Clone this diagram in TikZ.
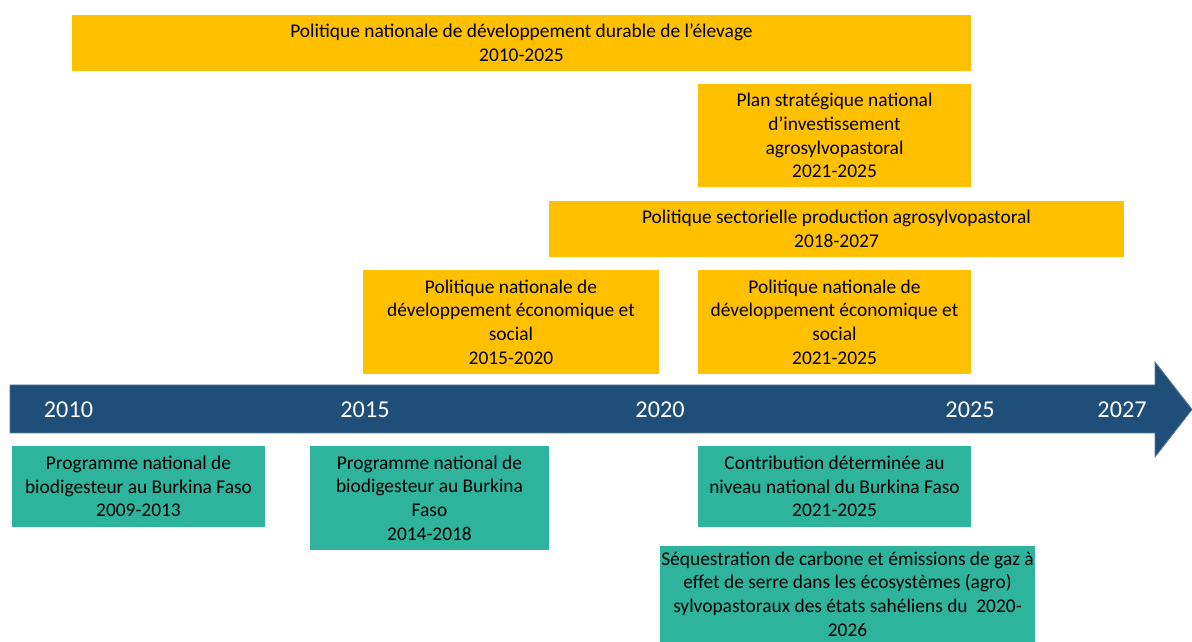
\documentclass[tikz,border=0pt]{standalone}
\usepackage{fontspec}
\setmainfont{Carlito}
\usetikzlibrary{positioning}
\definecolor{planorange}{HTML}{FFC000}
\definecolor{projgreen}{HTML}{2EB39D}
\definecolor{axisblue}{HTML}{1F4E79}

\tikzset{
  policy/.style={fill=planorange, align=center, inner sep=0pt, font=\fontsize{13.8}{16.9}\selectfont},
  project/.style={fill=projgreen, align=center, inner sep=0pt, font=\fontsize{13.8}{16.9}\selectfont},
  year/.style={text=white, font=\fontsize{17.2}{20}\selectfont}
}

\begin{document}
\begin{tikzpicture}[x=0.025cm, y=-0.025cm]
    \useasboundingbox (0,0) rectangle (1192,642);

    % Policies above the axis
    \node[policy, minimum width=22.475cm, minimum height=1.4cm] (pndel) at (521.5,43)
        {Politique nationale de développement durable de l’élevage\\2010-2025};
    \node[policy, minimum width=6.825cm, minimum height=2.575cm] (psnia) at (834.5,135.5)
        {Plan stratégique national\\d’investissement\\agrosylvopastoral\\2021-2025};
    \node[policy, minimum width=14.375cm, minimum height=1.4cm] (pspasp) at (836.5,229)
        {Politique sectorielle production agrosylvopastoral\\2018-2027};
    \node[policy, minimum width=7.4cm, minimum height=2.6cm] (pndes1) at (511,322)
        {Politique nationale de\\développement économique et\\social\\2015-2020};
    \node[policy, minimum width=6.825cm, minimum height=2.6cm] (pndes2) at (834.5,322)
        {Politique nationale de\\développement économique et\\social\\2021-2025};

    % Time axis
    \fill[axisblue, draw=axisblue!75!white, line width=0.6pt]
        (10,385) -- (1155,385) -- (1155,362) -- (1192,409.5)
        -- (1155,457) -- (1155,433) -- (10,433) -- cycle;
    \node[year] (y2010) at (68.5,410) {2010};
    \node[year] (y2015) at (365,410) {2015};
    \node[year] (y2020) at (660,410) {2020};
    \node[year] (y2025) at (970,410) {2025};
    \node[year] (y2027) at (1122,410) {2027};

    % Projects below the axis
    \node[project, minimum width=6.325cm, minimum height=2.025cm] (pnb1) at (138.5,486.5)
        {Programme national de\\biodigesteur au Burkina Faso\\2009-2013};
    \node[project, minimum width=5.975cm, minimum height=2.6cm] (pnb2) at (429.5,498)
        {Programme national de\\biodigesteur au Burkina\\Faso\\2014-2018};
    \node[project, minimum width=6.825cm, minimum height=2.025cm] (cdn) at (834.5,486.5)
        {Contribution déterminée au\\niveau national du Burkina Faso\\2021-2025};
    \node[project, minimum width=9.375cm, minimum height=2.4cm] (seqc) at (847.5,594)
        {Séquestration de carbone et émissions de gaz à\\effet de serre dans les écosystèmes (agro)\\sylvopastoraux des états sahéliens du~ 2020-\\2026};
\end{tikzpicture}
\end{document}
